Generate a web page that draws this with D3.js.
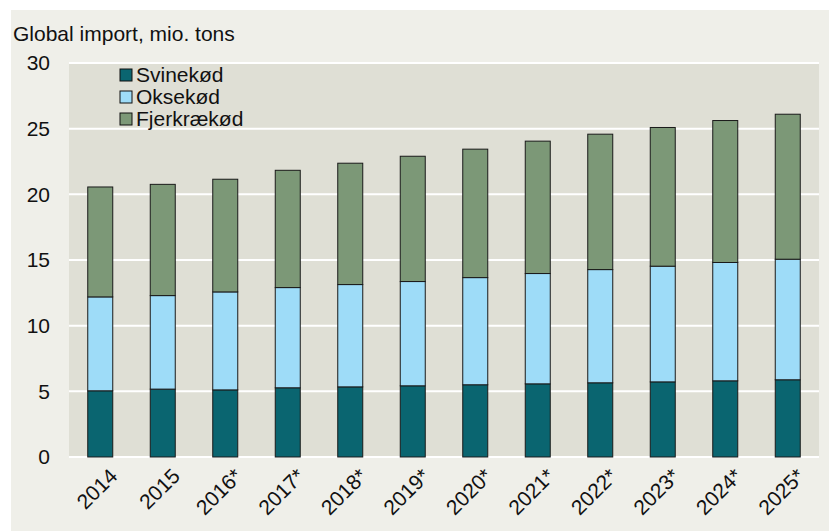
<!DOCTYPE html>
<html>
<head>
<meta charset="utf-8">
<script src="https://cdn.jsdelivr.net/npm/d3@7"></script>
<style>
  body { margin: 0; background: #ffffff; }
  svg text { font-family: "Liberation Sans", Arial, sans-serif; fill: #111; }
</style>
</head>
<body>
<div id="chart"></div>
<script>
'use strict';

const years = ['2014', '2015', '2016*', '2017*', '2018*', '2019*', '2020*', '2021*', '2022*', '2023*', '2024*', '2025*'];
const svinekod = [5.04, 5.17, 5.11, 5.27, 5.34, 5.42, 5.50, 5.57, 5.65, 5.72, 5.80, 5.88];
const oksekod = [7.15, 7.12, 7.46, 7.63, 7.79, 7.94, 8.16, 8.40, 8.62, 8.81, 9.01, 9.18];
const fjerkraekod = [8.37, 8.47, 8.58, 8.93, 9.24, 9.54, 9.78, 10.08, 10.31, 10.56, 10.81, 11.04];
const seriesNames = ['Svinekød', 'Oksekød', 'Fjerkrækød'];
const seriesColours = ['#0a6570', '#9edcf8', '#7c9877'];
const yTicks = [0, 5, 10, 15, 20, 25, 30];

const width = 829;
const height = 531;
const margin = {top: 63, right: 10, bottom: 74, left: 69};
const fontSize = '21px';

const svg = d3.select('#chart').append('svg')
  .attr('width', width)
  .attr('height', height);

svg.append('rect')
  .attr('x', 11).attr('y', 10)
  .attr('width', width - 11).attr('height', height - 10)
  .attr('fill', '#efefe9');

const x = d3.scaleBand()
  .domain(years)
  .range([margin.left, width - margin.right])
  .paddingInner(0.6)
  .paddingOuter(0.3);

const y = d3.scaleLinear()
  .domain([0, 30])
  .range([height - margin.bottom, margin.top]);

svg.append('rect')
  .attr('x', margin.left).attr('y', margin.top)
  .attr('width', width - margin.left - margin.right)
  .attr('height', y(0) - margin.top)
  .attr('fill', '#dfdfd5');

// gridlines
svg.append('g')
  .selectAll('line')
  .data(yTicks)
  .join('line')
  .attr('x1', margin.left)
  .attr('x2', width - margin.right)
  .attr('y1', d => y(d))
  .attr('y2', d => y(d))
  .attr('stroke', '#ffffff')
  .attr('stroke-width', 2);

const yAxis = d3.axisLeft(y).tickValues(yTicks).tickSize(0).tickPadding(19);
svg.append('g')
  .attr('transform', 'translate(' + margin.left + ',0)')
  .call(yAxis)
  .call(g => g.select('.domain').remove())
  .selectAll('text')
  .style('font-size', fontSize)
  .attr('fill', '#111');

const rows = years.map((yr, i) => ({year: yr, s0: svinekod[i], s1: oksekod[i], s2: fjerkraekod[i]}));
const stack = d3.stack().keys(['s0', 's1', 's2']);
const layers = stack(rows);

svg.append('g')
  .selectAll('g')
  .data(layers)
  .join('g')
  .attr('fill', (d, i) => seriesColours[i])
  .selectAll('rect')
  .data(d => d)
  .join('rect')
  .attr('x', d => x(d.data.year))
  .attr('y', d => y(d[1]))
  .attr('width', x.bandwidth())
  .attr('height', d => y(d[0]) - y(d[1]))
  .attr('stroke', '#1a1a1a')
  .attr('stroke-width', 1);

// x labels
svg.append('g')
  .selectAll('text')
  .data(years)
  .join('text')
  .attr('transform', d => 'translate(' + (x(d) + x.bandwidth() / 2 + 8) + ',' + (y(0) + 10) + ') rotate(-45)')
  .attr('text-anchor', 'end')
  .attr('dy', '0.7em')
  .style('font-size', fontSize)
  .text(d => d);

svg.append('text')
  .attr('x', 13)
  .attr('y', 41)
  .style('font-size', fontSize)
  .text('Global import, mio. tons');

const legend = svg.append('g')
  .selectAll('g')
  .data(seriesNames)
  .join('g')
  .attr('transform', (d, i) => 'translate(120,' + (69 + i * 22) + ')');

legend.append('rect')
  .attr('width', 12).attr('height', 12)
  .attr('fill', (d, i) => seriesColours[i])
  .attr('stroke', '#111')
  .attr('stroke-width', 1);

legend.append('text')
  .attr('x', 16)
  .attr('y', 13)
  .style('font-size', fontSize)
  .text(d => d);
</script>
</body>
</html>
